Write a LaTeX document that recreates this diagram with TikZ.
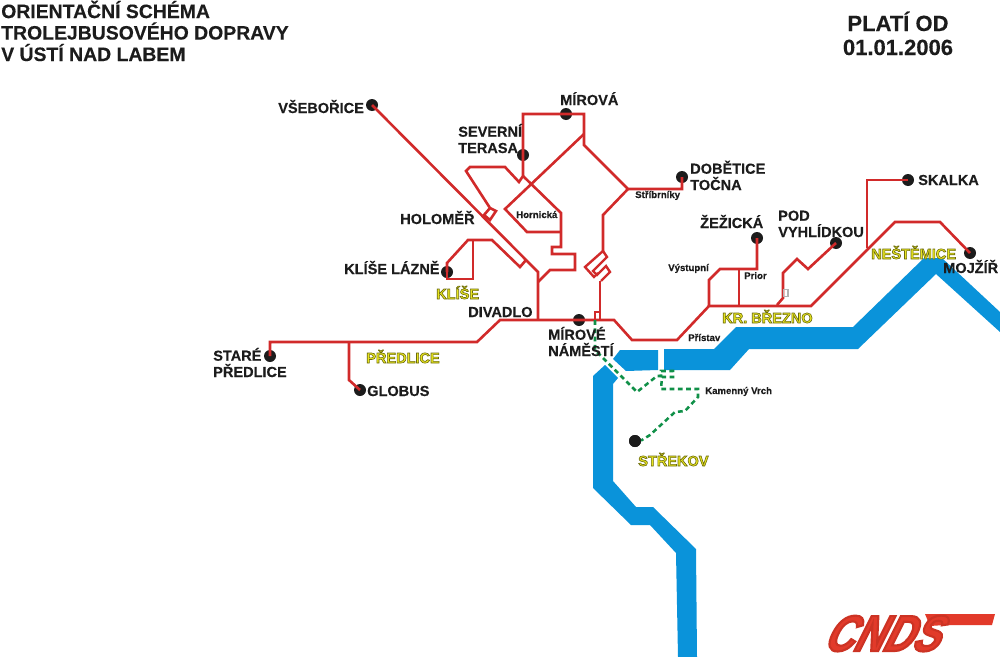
\documentclass[tikz,border=0pt]{standalone}
\usepackage{fontspec}
\setmainfont{Liberation Sans}
\newfontfamily\inkfont{Liberation Sans}[FakeBold=0.25]
\newfontfamily\logofont{Liberation Sans}[FakeStretch=0.8,FakeSlant=0.5]
\definecolor{rline}{HTML}{D12A2A}
\definecolor{river}{HTML}{0A93DA}
\definecolor{gline}{HTML}{109048}
\definecolor{ink}{HTML}{1C1C1C}
\definecolor{yfill}{HTML}{E8E41E}
\definecolor{cndsred}{HTML}{E23A2A}
\newcommand{\outl}[1]{\special{pdf:code 2 Tr 0.45 w 0.42 0.42 0.05 RG}#1\special{pdf:code 0 Tr}}
\newcommand{\cndsl}[1]{\special{pdf:code 2 Tr 1.6 w 0.80 0.20 0.14 RG}#1\special{pdf:code 0 Tr}}
\tikzset{
 redline/.style={draw=rline,line width=1.95pt,line join=miter},
 zigline/.style={draw=rline,line width=1.8pt,line join=miter},
 greenline/.style={draw=gline,line width=1.9pt,dash pattern=on 3.6pt off 2.6pt},
 riverbody/.style={fill=river,draw=none},
 dot/.style={circle,fill=ink,draw=none,inner sep=0pt,minimum size=9pt},
 lab/.style={anchor=base west,inner sep=0pt,text=ink,font=\inkfont\bfseries\fontsize{10.9}{12.2}\selectfont,align=left},
 small/.style={anchor=base west,inner sep=0pt,text=ink,font=\inkfont\bfseries\fontsize{7.2}{8}\selectfont},
 area/.style={anchor=base west,inner sep=0pt,text=yfill,font=\bfseries\fontsize{10.9}{12.2}\selectfont},
 titletext/.style={anchor=base west,inner sep=0pt,text=ink,font=\inkfont\bfseries\fontsize{14.55}{16.1}\selectfont,align=left},
 datetext/.style={anchor=base,inner sep=0pt,text=ink,font=\inkfont\bfseries\fontsize{16.5}{18}\selectfont,align=center},
}
\begin{document}
\begin{tikzpicture}[x=0.75pt,y=-0.75pt]
\useasboundingbox (0,0) rectangle (1000,657);
% river
\fill[riverbody] (593,376) -- (605,365) -- (618,378) -- (613,384) -- (613,481) -- (636,507) -- (653,507) -- (696,549) -- (697,657) -- (678,657) -- (676,553) -- (650,525) -- (631,525) -- (593,488) -- cycle;
\fill[riverbody] (620,350) -- (658,350) -- (658,370) -- (626,371) -- (613,359) -- cycle;
\fill[riverbody] (664,349) -- (714,349) -- (736,327) -- (853,327) -- (924,258) -- (942,258) -- (1000,312) -- (1000,332) -- (936,274) -- (858,349) -- (749,349) -- (730,370) -- (664,370) -- cycle;
% stops
\node[dot] (vsebo) at (372,105) {};
\node[dot] (mirova) at (566,114) {};
\node[dot] (sever) at (523,155) {};
\node[dot] (dobet) at (682,177) {};
\node[dot] (skalka) at (908,180) {};
\node[dot] (zezi) at (757,238) {};
\node[dot] (pod) at (836,243) {};
\node[dot] (mojzir) at (970,253) {};
\node[dot] (klise) at (447,272) {};
\node[dot] (mirnam) at (579,320) {};
\node[dot] (stare) at (270,356) {};
\node[dot] (globus) at (360,390) {};
\node[dot] (strekov) at (635,441) {};
\coordinate (stribrniky) at (628,189);
\coordinate (divadlo) at (538,320);
\coordinate (prior) at (739,306);
\coordinate (vystupni) at (709,306);
\coordinate (nest) at (867,248);
% red network
\draw[redline] (vsebo.center) -- (538,272) -- (divadlo);
\draw[redline] (stare.center) -- (270,342) -- (477,342) -- (500,320) -- (mirnam.center) -- (614,320) -- (632,340) -- (677,340) -- (vystupni) -- (811,306) -- (895,222) -- (940,222) -- (mojzir.center);
\draw[redline] (349,342) -- (349,380) -- (globus.center);
\draw[redline] (sever.center) -- (523,114) -- (584,114) -- (584,145) -- (stribrniky) -- (682,189) -- (682,180) -- (dobet.center);
\draw[redline] (sever.center) -- (523,176) -- (519,182) -- (505,167) -- (470,167) -- (466,171) -- (490,208) -- (496,211) -- (490,220) -- (484,215) -- (490,208);
\draw[redline] (584,134) -- (505,209) -- (527,232) -- (561,232);
\draw[redline] (523,176) -- (561,213) -- (561,247) -- (552,247) -- (552,254) -- (575,254) -- (575,270) -- (550,270) -- (538,282);
\draw[redline] (klise.center) -- (447,263) -- (468,240) -- (492,240) -- (520,267) -- (526,260);
\draw[redline] (473,240) -- (473,279) -- (447,279) -- (klise.center);
\draw[redline] (stribrniky) -- (603,215) -- (603,251);
\draw[zigline] (603,251) -- (585,267) -- (594,277) -- (598,273);
\draw[zigline] (603,251) -- (607,257) -- (593,271) -- (597,275) -- (606,266) -- (610,272) -- (601,281);
\draw[redline] (600,281) -- (600,320);
\draw[redline] (595,320) -- (595,312) -- (600,312);
\draw[redline] (vystupni) -- (709,280) -- (720,269) -- (757,269) -- (zezi.center);
\draw[redline] (739,269) -- (prior);
\draw[redline] (pod.center) -- (808,269) -- (797,259) -- (783,273) -- (783,298) -- (777,305);
\draw[redline] (nest) -- (867,180) -- (skalka.center);
\draw[draw=gray!60,line width=1.2pt] (783.5,289.5) rectangle (788,296.5);
% green line
\draw[greenline] (595,320) -- (595,350) -- (637,392) -- (657,376) -- (661,376) -- (661,371) -- (673,371) -- (673,377) -- (662,377) -- (661,389) -- (698,389) -- (698,397) -- (685,411) -- (675,412) -- (650,435) -- (642,440) -- (strekov.center);
\node[dot] at (strekov) {};
% labels
\node[titletext] (title) at (1,61) {ORIENTAČNÍ SCHÉMA\\TROLEJBUSOVÉHO DOPRAVY\\V ÚSTÍ NAD LABEM};
\node[datetext] (platnost) at (898,55) {PLATÍ OD\\01.01.2006};
\node[lab] (lvse) at (278,113) {VŠEBOŘICE};
\node[lab] (lmir) at (560,105) {MÍROVÁ};
\node[lab] (lsev) at (458,153) {SEVERNÍ\\TERASA};
\node[lab] (ldob) at (690,190) {DOBĚTICE\\TOČNA};
\node[lab] (lhol) at (400,224) {HOLOMĚŘ};
\node[lab] (lkl) at (344,274) {KLÍŠE LÁZNĚ};
\node[lab] (ldiv) at (468,317) {DIVADLO};
\node[lab] (lnam) at (548,356) {MÍROVÉ\\NÁMĚSTÍ};
\node[lab] (lsta) at (213,377) {STARÉ\\PŘEDLICE};
\node[lab] (lglo) at (367,396) {GLOBUS};
\node[lab] (lzez) at (700,228) {ŽEŽICKÁ};
\node[lab] (lpod) at (778,237) {POD\\VYHLÍDKOU};
\node[lab] (lska) at (918,185) {SKALKA};
\node[small] (s1) at (635,198) {Stříbrníky};
\node[small] (s2) at (516,218) {Hornická};
\node[small] (s3) at (668,271) {Výstupní};
\node[small] (s4) at (744,279) {Prior};
\node[small] (s5) at (688,341) {Přístav};
\node[small] (s6) at (705,394) {Kamenný Vrch};
\node[area] (a1) at (436,299) {\outl{KLÍŠE}};
\node[area] (a2) at (366,363) {\outl{PŘEDLICE}};
\node[area] (a3) at (722,323) {\outl{KR. BŘEZNO}};
\node[area] (a4) at (871,259) {\outl{NEŠTĚMICE}};
\node[area] (a5) at (638,466) {\outl{STŘEKOV}};
\node[lab] (lmoj) at (943,273) {MOJŽÍŘ};
% logo
\fill[cndsred] (925,614) -- (995,614) -- (992,625) -- (945,625) -- (930,626) -- cycle;
\node[anchor=base west,inner sep=0pt,text=cndsred,font=\logofont\bfseries\fontsize{38}{38}\selectfont] (cnds) at (822,651) {\cndsl{CNDS}};
\end{tikzpicture}
\end{document}
